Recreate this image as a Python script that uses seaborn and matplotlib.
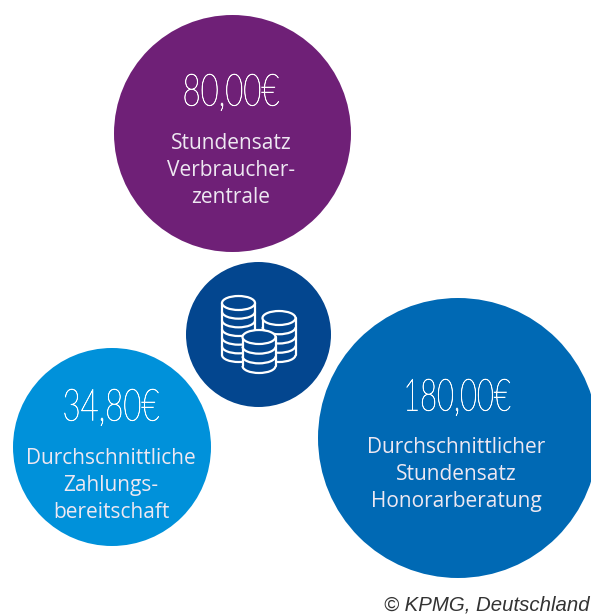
import matplotlib
matplotlib.use("Agg")
import matplotlib.pyplot as plt
from matplotlib.font_manager import FontProperties as FP
from matplotlib.patches import Ellipse, Arc, Rectangle
from matplotlib.patheffects import AbstractPathEffect
from matplotlib.transforms import Affine2D
import pandas as pd
import seaborn as sns

# data
amounts = ["80,00€", "34,80€", "180,00€"]
captions = ["Stundensatz\nVerbraucher-\nzentrale",
            "Durchschnittliche\nZahlungs-\nbereitschaft",
            "Durchschnittlicher\nStundensatz\nHonorarberatung"]
credit = "© KPMG, Deutschland"

# layout (pixels)
W, H = 591, 614
bubble_x = [232.5, 112, 458, 258.5]
bubble_y = [133.5, 447, 438, 334.5]
bubble_r = [118.5, 99, 140, 72.5]
bubble_c = ["#6f2077", "#0091da", "#0069b4", "#03468f"]
amount_xy = [(231, 94), (111, 409), (457, 399)]
amount_squeeze = [0.70, 0.70, 0.655]
caption_x = [231, 111, 456]
caption_y = [170.5, 485.5, 474.5]

sns.set_theme(style="white")
plt.rcParams["font.family"] = ["Liberation Sans", "DejaVu Sans"]


class Condense(AbstractPathEffect):
    """Narrow a real text object's glyph outlines around its centre, with a fine stroke."""
    def __init__(self, text, factor, stroke=0.0):
        super().__init__()
        self.text, self.factor, self.stroke = text, factor, stroke

    def draw_path(self, renderer, gc, tpath, affine, rgbFace=None):
        cx = self.text.axes.transData.transform(self.text.get_position())[0]
        squeeze = Affine2D().translate(-cx, 0).scale(self.factor, 1).translate(cx, 0)
        g = renderer.new_gc()
        g.copy_properties(gc)
        g.set_linewidth(self.stroke)
        g.set_foreground(self.text.get_color())
        renderer.draw_path(g, tpath, affine + squeeze, rgbFace)
        g.restore()


fig = plt.figure(figsize=(W / 100, H / 100), dpi=100)
ax = fig.add_axes([0, 0, 1, 1])
ax.axis("off")

df = pd.DataFrame({"x": bubble_x, "y": bubble_y, "k": list(range(4))})
sizes = {i: (2 * r * 0.72) ** 2 for i, r in enumerate(bubble_r)}
sns.scatterplot(data=df, x="x", y="y", hue="k", size="k", sizes=sizes,
                palette=dict(enumerate(bubble_c)), linewidth=0, legend=False,
                ax=ax, zorder=1)
ax.set_xlim(0, W)
ax.set_ylim(H, 0)

for (x, y), a, f in zip(amount_xy, amounts, amount_squeeze):
    t = ax.text(x, y, a, color="white", ha="center", va="center",
                fontproperties=FP(family="Lato", weight=100, size=32), zorder=3)
    t.set_path_effects([Condense(t, f, 0.45)])
for x, c, yc in zip(caption_x, captions, caption_y):
    ax.text(x, yc, c, color="#eee8f2", ha="center", va="center",
            fontproperties=FP(family="Open Sans", size=15),
            linespacing=1.38, zorder=3)

ax.text(590, 605, credit, color="#333333", fontsize=14.7, style="italic",
        ha="right", va="center")

# coin stacks icon
DARK = bubble_c[3]
LW = 1.6
def stack(cx, top, bottom, step, rx=16.5, ry=7, z=4):
    ax.add_patch(Rectangle((cx - rx, top), 2 * rx, bottom - top, fc=DARK, ec="none", zorder=z))
    ax.add_patch(Ellipse((cx, bottom), 2 * rx, 2 * ry, fc=DARK, ec="none", zorder=z))
    ax.plot([cx - rx, cx - rx], [top, bottom], color="white", lw=LW, zorder=z + .1)
    ax.plot([cx + rx, cx + rx], [top, bottom], color="white", lw=LW, zorder=z + .1)
    y = top + step
    while y < bottom - 2:
        ax.add_patch(Arc((cx, y), 2 * rx, 2 * ry, theta1=0, theta2=180, color="white",
                         lw=LW, zorder=z + .1))
        y += step
    ax.add_patch(Arc((cx, bottom), 2 * rx, 2 * ry, theta1=0, theta2=180, color="white",
                     lw=LW, zorder=z + .1))
    ax.add_patch(Ellipse((cx, top), 2 * rx, 2 * ry, fc=DARK, ec="white", lw=LW, zorder=z + .2))

stack(238.5, 303, 355, 8.67, z=4)
stack(279, 318, 355, 9.25, z=5)
stack(259, 337, 366, 9.67, z=6)

fig.savefig("out.png", dpi=100, facecolor="white")
